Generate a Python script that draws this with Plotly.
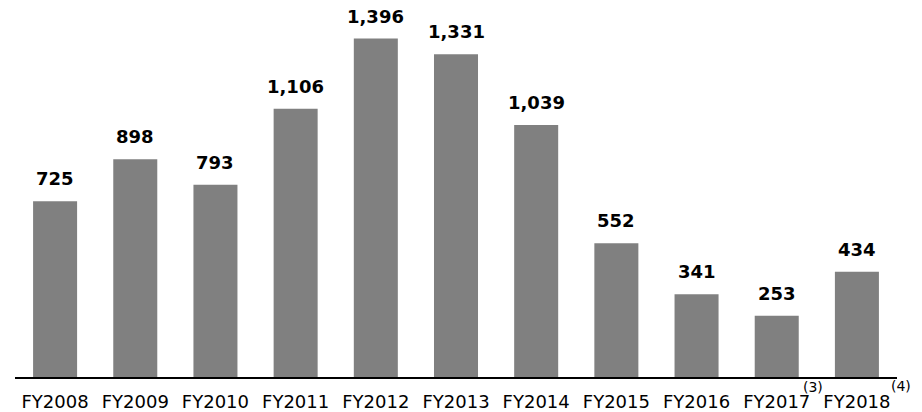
import plotly.graph_objects as go

# Annual figures by fiscal year
years = ["FY2008", "FY2009", "FY2010", "FY2011", "FY2012", "FY2013",
         "FY2014", "FY2015", "FY2016", "FY2017", "FY2018"]
values = [725, 898, 793, 1106, 1396, 1331, 1039, 552, 341, 253, 434]
value_labels = ["725", "898", "793", "1,106", "1,396", "1,331",
                "1,039", "552", "341", "253", "434"]
footnotes = {"FY2017": "(3)", "FY2018": "(4)"}
footnote_offset = {"FY2017": (36, -10), "FY2018": (44, -9)}

FONT = "Verdana, DejaVu Sans, sans-serif"

fig = go.Figure(
    go.Bar(
        x=years,
        y=values,
        marker=dict(color="#808080", line=dict(width=0)),
        hoverinfo="x+y",
    )
)

# Bold value labels above each bar
for yr, v, lab in zip(years, values, value_labels):
    fig.add_annotation(
        x=yr, y=v, xref="x", yref="y",
        text=f"<b>{lab}</b>",
        showarrow=False, yanchor="bottom", yshift=10,
        font=dict(family=FONT, size=18, color="#000000"),
    )

# Footnote markers next to the category labels
for yr, note in footnotes.items():
    dx, dy = footnote_offset[yr]
    fig.add_annotation(
        x=yr, y=0, xref="x", yref="paper",
        text=note, showarrow=False,
        xshift=dx, yshift=dy, yanchor="middle",
        font=dict(family=FONT, size=14, color="#000000"),
    )

fig.update_layout(
    width=922, height=412,
    margin=dict(l=15, r=25, t=0, b=35, autoexpand=False),
    paper_bgcolor="white", plot_bgcolor="white",
    bargap=0.451,
    showlegend=False,
    font=dict(family=FONT, color="#000000"),
    xaxis=dict(
        range=[-0.5, 10.5], automargin=False,
        showline=True, linecolor="#000000", linewidth=2,
        ticks="outside", ticklen=7, tickcolor="rgba(0,0,0,0)",
        tickfont=dict(family=FONT, size=18, color="#000000"),
        showgrid=False, zeroline=False,
    ),
    yaxis=dict(
        range=[0, 1555], visible=False, automargin=False,
        showgrid=False, zeroline=False,
    ),
)

fig.write_html("out.html")
